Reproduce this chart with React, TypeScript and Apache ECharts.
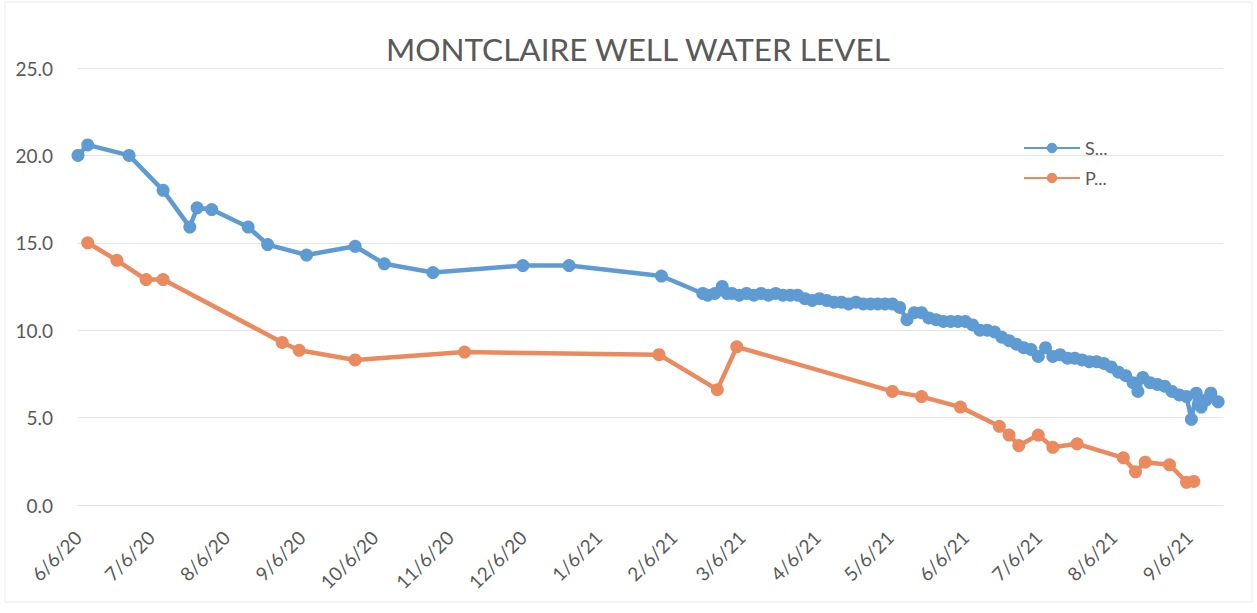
import React, { useEffect, useRef } from "react";
import * as echarts from "echarts";

const monthLabels = [
  "6/6/20", "7/6/20", "8/6/20", "9/6/20", "10/6/20", "11/6/20", "12/6/20",
  "1/6/21", "2/6/21", "3/6/21", "4/6/21", "5/6/21", "6/6/21", "7/6/21", "8/6/21", "9/6/21",
];

const yTicks = [0, 5, 10, 15, 20, 25];

const sDates = [
  "2020-06-06", "2020-06-10", "2020-06-27", "2020-07-11", "2020-07-22", "2020-07-25", "2020-07-31",
  "2020-08-15", "2020-08-23", "2020-09-08", "2020-09-28", "2020-10-10", "2020-10-30", "2020-12-06",
  "2020-12-25", "2021-02-01", "2021-02-18", "2021-02-20", "2021-02-23", "2021-02-26", "2021-02-28",
  "2021-03-02", "2021-03-05", "2021-03-08", "2021-03-11", "2021-03-14", "2021-03-17", "2021-03-20",
  "2021-03-23", "2021-03-26", "2021-03-29", "2021-04-01", "2021-04-04", "2021-04-07", "2021-04-10",
  "2021-04-13", "2021-04-16", "2021-04-19", "2021-04-22", "2021-04-25", "2021-04-28", "2021-05-01",
  "2021-05-04", "2021-05-07", "2021-05-10", "2021-05-13", "2021-05-16", "2021-05-19", "2021-05-22",
  "2021-05-25", "2021-05-28", "2021-05-31", "2021-06-03", "2021-06-06", "2021-06-09", "2021-06-12",
  "2021-06-15", "2021-06-18", "2021-06-21", "2021-06-24", "2021-06-27", "2021-06-30", "2021-07-03",
  "2021-07-06", "2021-07-09", "2021-07-12", "2021-07-15", "2021-07-18", "2021-07-21", "2021-07-24",
  "2021-07-27", "2021-07-30", "2021-08-02", "2021-08-05", "2021-08-08", "2021-08-11", "2021-08-14",
  "2021-08-16", "2021-08-18", "2021-08-21", "2021-08-24", "2021-08-27", "2021-08-30", "2021-09-02",
  "2021-09-05", "2021-09-07", "2021-09-09", "2021-09-11", "2021-09-13", "2021-09-15", "2021-09-18",
];
const sValues = [
  20.0, 20.6, 20.0, 18.0, 15.9, 17.0, 16.9,
  15.9, 14.9, 14.3, 14.8, 13.8, 13.3, 13.7,
  13.7, 13.1, 12.1, 12.0, 12.1, 12.5, 12.1,
  12.1, 12.0, 12.1, 12.0, 12.1, 12.0, 12.1,
  12.0, 12.0, 12.0, 11.8, 11.7, 11.8, 11.7,
  11.6, 11.6, 11.5, 11.6, 11.5, 11.5, 11.5,
  11.5, 11.5, 11.3, 10.6, 11.0, 11.0, 10.7,
  10.6, 10.5, 10.5, 10.5, 10.5, 10.3, 10.0,
  10.0, 9.9, 9.6, 9.4, 9.2, 9.0, 8.9,
  8.5, 9.0, 8.5, 8.6, 8.4, 8.4, 8.3,
  8.2, 8.2, 8.1, 7.9, 7.6, 7.4, 7.0,
  6.5, 7.3, 7.0, 6.9, 6.8, 6.5, 6.3,
  6.2, 4.9, 6.4, 5.6, 6.0, 6.4, 5.9,
];

const pDates = [
  "2020-06-10", "2020-06-22", "2020-07-04", "2020-07-11", "2020-08-29", "2020-09-05", "2020-09-28",
  "2020-11-12", "2021-01-31", "2021-02-24", "2021-03-04", "2021-05-07", "2021-05-19", "2021-06-04",
  "2021-06-20", "2021-06-24", "2021-06-28", "2021-07-06", "2021-07-12", "2021-07-22", "2021-08-10",
  "2021-08-15", "2021-08-19", "2021-08-29", "2021-09-05", "2021-09-08",
];
const pValues = [
  15.0, 14.0, 12.9, 12.9, 9.3, 8.85, 8.3,
  8.75, 8.6, 6.6, 9.05, 6.5, 6.2, 5.6,
  4.5, 4.0, 3.4, 4.0, 3.3, 3.5, 2.7,
  1.9, 2.45, 2.3, 1.3, 1.35,
];

const seriesNames = ["S...", "P..."];
const titleText = "MONTCLAIRE WELL WATER LEVEL";

const toTs = (d: string) => {
  const [y, m, dd] = d.split("-").map(Number);
  return Date.UTC(y, m - 1, dd);
};
const labelToTs = (l: string) => {
  const [m, d, y] = l.split("/").map(Number);
  return Date.UTC(2000 + y, m - 1, d);
};

export default function App() {
  const ref = useRef<HTMLDivElement>(null);
  useEffect(() => {
    if (!ref.current) return;
    const chart = echarts.init(ref.current, undefined, { renderer: "svg" });
    const font = "Lato, 'Open Sans', sans-serif";
    const grey = "#595959";
    const blue = "#5f9bd3";
    const orange = "#ea8a5e";
    const labelTs = monthLabels.map(labelToTs);
    chart.setOption({
      animation: false,
      backgroundColor: "#ffffff",
      title: {
        text: titleText,
        left: 381,
        top: 28,
        textStyle: { color: grey, fontSize: 31.5, fontWeight: "normal", fontFamily: font },
      },
      legend: {
        orient: "vertical",
        left: 1018,
        top: 134,
        itemWidth: 56,
        itemHeight: 13,
        itemGap: 12,
        textStyle: { color: grey, fontSize: 18, fontFamily: font },
        data: seriesNames,
      },
      grid: { left: 78, right: 34, top: 68, bottom: 108, containLabel: false },
      xAxis: {
        type: "value",
        min: toTs("2020-06-06"),
        max: toTs("2021-09-20"),
        axisLine: { show: true, lineStyle: { color: "#e4e4e4", width: 1 } },
        axisTick: { show: false },
        splitLine: { show: false },
        axisLabel: {
          customValues: labelTs,
          rotate: 45,
          margin: 29,
          color: grey,
          fontSize: 19,
          fontFamily: font,
          formatter: (v: number) => {
            const d = new Date(v);
            return `${d.getUTCMonth() + 1}/${d.getUTCDate()}/${String(d.getUTCFullYear()).slice(2)}`;
          },
        },
      },
      yAxis: {
        type: "value",
        min: yTicks[0],
        max: yTicks[yTicks.length - 1],
        interval: 5,
        axisLine: { show: false },
        axisTick: { show: false },
        splitLine: { show: true, lineStyle: { color: "#e6e6e6", width: 1 } },
        axisLabel: {
          margin: 25,
          color: grey,
          fontSize: 19,
          fontFamily: font,
          formatter: (v: number) => v.toFixed(1),
        },
      },
      series: [
        {
          name: seriesNames[0],
          type: "line",
          data: sDates.map((d, i) => [toTs(d), sValues[i]]),
          symbol: "circle",
          symbolSize: 13,
          showAllSymbol: true,
          lineStyle: { color: blue, width: 4.5 },
          itemStyle: { color: blue },
          z: 3,
        },
        {
          name: seriesNames[1],
          type: "line",
          data: pDates.map((d, i) => [toTs(d), pValues[i]]),
          symbol: "circle",
          symbolSize: 13,
          showAllSymbol: true,
          lineStyle: { color: orange, width: 4.5 },
          itemStyle: { color: orange },
          z: 2,
        },
      ],
      graphic: [
        {
          type: "rect",
          shape: { x: 5, y: 2, width: 1247, height: 600 },
          style: { fill: "none", stroke: "#ececec", lineWidth: 1 },
          silent: true,
        },
      ],
    });
    return () => chart.dispose();
  }, []);
  return (
    <div
      ref={ref}
      style={{ position: "fixed", left: 0, top: 0, width: 1257, height: 613 }}
    />
  );
}
